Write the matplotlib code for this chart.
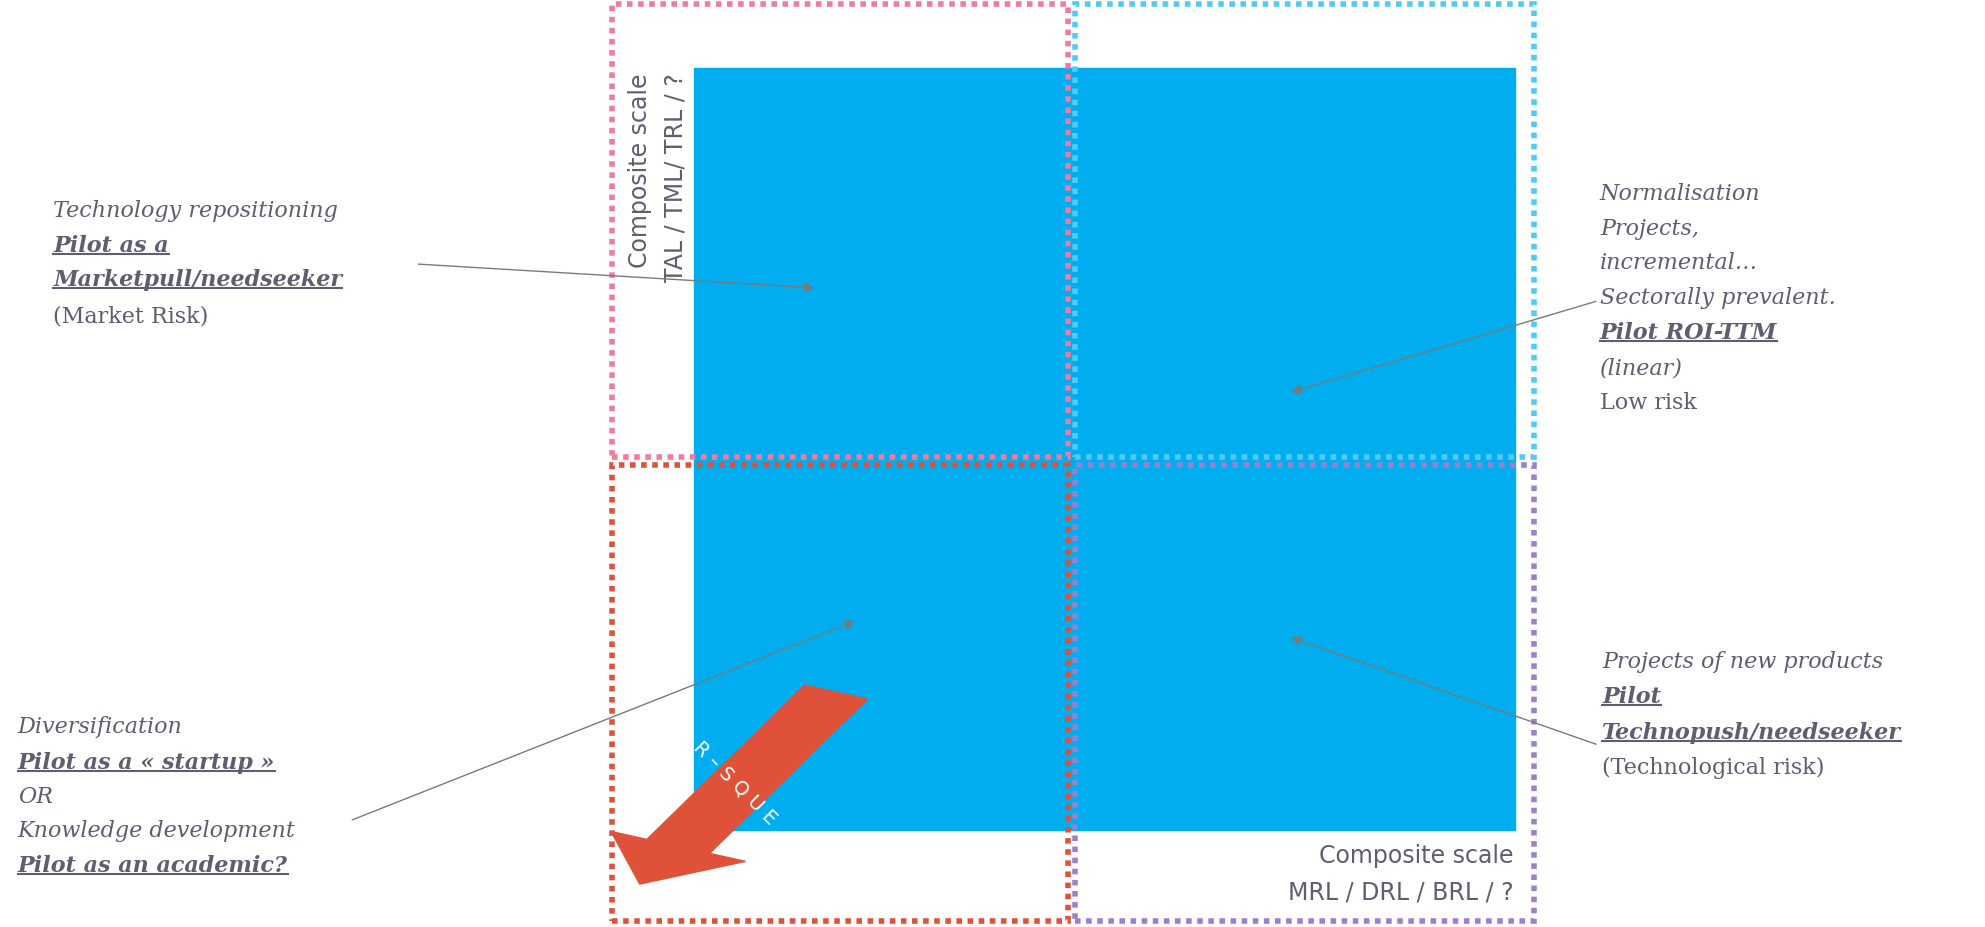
import matplotlib
matplotlib.use("Agg")
import matplotlib.pyplot as plt
from matplotlib.patches import Rectangle, FancyArrow

xs = [1.5, 1.25, 1, 1, 2.25, 2.5, 2.6, 3, 3.5, 2.45, 2.45, 2.55, 2.75, 3, 3.5, 2.35, 2.35, 4, 4, 3, 2.75, 3]
ys = [9, 8, 7, 6, 6, 6, 6, 6, 6, 5.2, 5.06, 5.0, 5.08, 4.88, 5.0, 4.78, 4.65, 4.78, 4.65, 4.5, 4, 4]

W, H = 1567, 734
def F(x, y):
    return (x / W, 1 - y / H)

fig = plt.figure(figsize=(19.85, 9.27), dpi=100)
BLUE = "#00AEEF"
fig.patches.append(Rectangle(F(548, 657), (1196-548)/W, (657-54)/H, transform=fig.transFigure, color=BLUE, zorder=0))
ax = fig.add_axes([567/W, 1-638/H, (1177-567)/W, (638-73)/H])
ax.set_facecolor(BLUE)
ax.set_xlim(0, 5); ax.set_ylim(0, 10)
ax.set_xticks(range(6)); ax.set_yticks(range(11))
ax.grid(True, color="#5ccaf2", lw=1)
ax.tick_params(length=0, labelbottom=False, labelleft=False)
for s in ax.spines.values():
    s.set_color("#5ccaf2")
ax.scatter(xs, ys, s=90, facecolor="none", edgecolor="white", linewidth=2.5, zorder=5)

# dotted boxes
for (x0, y0, x1, y1, c) in [(483, 3, 843, 362, "#f07aa0"), (849, 3, 1211, 362, "#4fcbf5"),
                            (483, 368, 843, 729, "#e0513a"), (849, 368, 1211, 729, "#9e7fcb")]:
    fig.patches.append(Rectangle(F(x0, y1), (x1-x0)/W, (y1-y0)/H, transform=fig.transFigure,
                                 fill=False, ec=c, lw=4, ls=(0, (1, 1)), zorder=6))

# red arrow
sx, sy = F(660, 548); ex, ey = F(505, 700)
fig.patches.append(FancyArrow(sx, sy, (ex-sx), (ey-sy), width=0.035, head_width=0.075, head_length=0.045,
                              length_includes_head=True, transform=fig.transFigure, color="#e0513a", zorder=7))
fig.text(*F(580, 620), "R – S Q U E", rotation=-45, color="white", fontsize=14, ha="center", va="center", zorder=8,
         family="DejaVu Sans", rotation_mode="anchor")

GREY = "#5e5e70"
for (a, b) in [((328, 209), (645, 228)), ((1262, 238), (1017, 311)), ((276, 650), (677, 491)), ((1262, 590), (1017, 504))]:
    fig.add_artist(matplotlib.patches.FancyArrowPatch(F(*a), F(*b), transform=fig.transFigure,
                   arrowstyle="-|>,head_length=6,head_width=3", color="#7a7a7a", lw=1, zorder=9))

# axis labels
fig.text(*F(505, 58), "Composite scale", rotation=90, ha="center", va="top", color=GREY, fontsize=17)
fig.text(*F(533, 58), "TAL / TML/ TRL / ?", rotation=90, ha="center", va="top", color=GREY, fontsize=17)
fig.text(*F(1195, 678), "Composite scale", ha="right", va="center", color=GREY, fontsize=17)
fig.text(*F(1195, 707), "MRL / DRL / BRL / ?", ha="right", va="center", color=GREY, fontsize=17)

blocks = [
    (42, [(167, "Technology repositioning", "i"), (195, "Pilot as a", "b"), (222, "Marketpull/needseeker", "b"), (251, "(Market Risk)", "n")]),
    (1263, [(154, "Normalisation", "i"), (181, "Projects,", "i"), (208, "incremental…", "i"), (236, "Sectorally prevalent.", "i"),
            (264, "Pilot ROI-TTM", "b"), (292, "(linear)", "i"), (319, "Low risk", "n")]),
    (1265, [(524, "Projects of new products", "i"), (552, "Pilot", "b"), (580, "Technopush/needseeker", "b"), (608, "(Technological risk)", "n")]),
    (14, [(576, "Diversification", "i"), (604, "Pilot as a « startup »", "b"), (631, "OR", "i"), (658, "Knowledge development", "i"), (686, "Pilot as an academic?", "b")]),
]
bold_texts = []
for x, lines in blocks:
    for y, s, st in lines:
        kw = dict(family="DejaVu Serif", color=GREY, fontsize=16, ha="left", va="center")
        if st == "i":
            kw["style"] = "italic"
        if st == "b":
            kw["style"] = "italic"; kw["weight"] = "bold"
        t = fig.text(*F(x, y), s, **kw)
        if st == "b":
            bold_texts.append(t)

fig.canvas.draw()
r = fig.canvas.get_renderer()
inv = fig.transFigure.inverted()
for t in bold_texts:
    bb = t.get_window_extent(r)
    (x0, y0), (x1, y1) = inv.transform([(bb.x0, bb.y0 + 3), (bb.x1, bb.y0 + 3)])
    fig.add_artist(matplotlib.lines.Line2D([x0, x1], [y0, y1], transform=fig.transFigure, color=GREY, lw=1.5))

fig.savefig("out.png", dpi=100)
